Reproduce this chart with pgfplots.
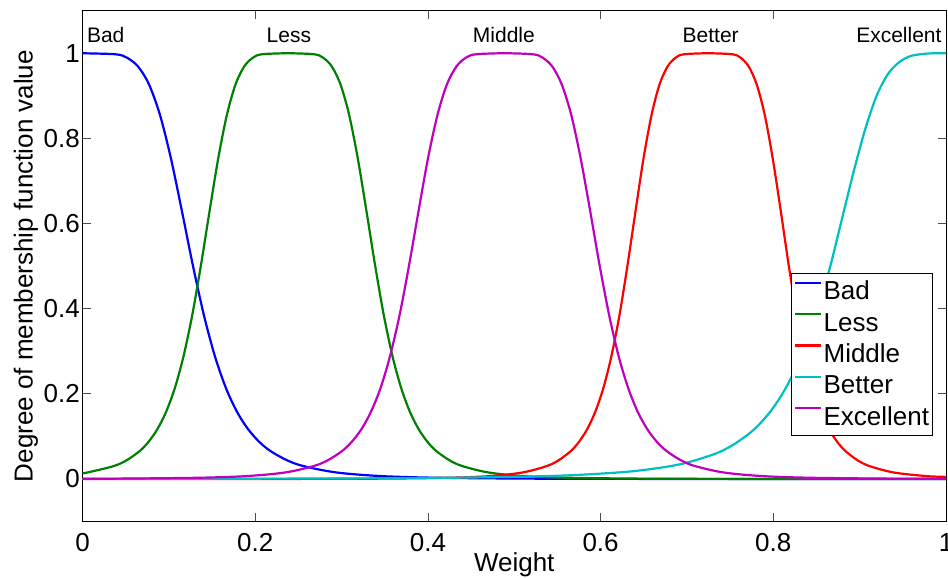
\documentclass[border=0pt]{standalone}
\usepackage{fontspec}
\setmainfont{Liberation Sans}
\usepackage{pgfplots}
\pgfplotsset{compat=1.18}
\definecolor{mblue}{rgb}{0,0,1}
\definecolor{mgreen}{rgb}{0,0.5,0}
\definecolor{mred}{rgb}{1,0,0}
\definecolor{mcyan}{rgb}{0,0.75,0.75}
\definecolor{mmagenta}{rgb}{0.75,0,0.75}
\begin{document}
\begin{tikzpicture}
\begin{axis}[
  name=ax,
  scale only axis,
  width=863.5pt, height=510.9pt,
  xmin=0, xmax=1, ymin=-0.1, ymax=1.1,
  xtick={0,0.2,0.4,0.6,0.8,1},
  ytick={0,0.2,0.4,0.6,0.8,1},
  tick align=inside,
  major tick length=8.5pt,
  axis line style={line width=0.9pt},
  every tick/.style={black!70, line width=0.8pt},
  /pgf/number format/assume math mode=true,
  tick label style={font=\fontsize{26}{30}\selectfont},
  xticklabel style={anchor=base, yshift=-30pt},
  yticklabel style={anchor=east, inner sep=0pt, xshift=-2.5pt},
  xlabel={Weight},
  ylabel={Degree of membership function value},
  label style={font=\fontsize{26}{30}\selectfont},
  xlabel style={at={([yshift=-50pt]axis description cs:0.5,0)}, anchor=base},
  ylabel style={at={([xshift=-56.5pt]axis description cs:0,0.5)}, anchor=center},
  legend style={at={(axis cs:0.985,0.483)}, anchor=north east,
    font=\fontsize{26}{31.3}\selectfont, draw=black, line width=0.9pt,
    inner xsep=2pt, inner ysep=4pt, row sep=3.3pt,
    cells={anchor=west},
    nodes={inner xsep=1.5pt, inner ysep=0pt, text height=22pt, text depth=6pt}},
  legend image code/.code={\draw[#1] (0pt,9pt) -- (26pt,9pt);},
  every axis plot/.append style={line width=2.2pt, smooth, tension=0.5},
]
% Bad (blue)
\addplot[mblue] coordinates {(0,1) (0.0384,0.9976) (0.0512,0.9899) (0.064,0.9697) (0.0768,0.9279) (0.0896,0.8561) (0.1024,0.7532) (0.1152,0.6287) (0.128,0.5) (0.1408,0.383) (0.1536,0.2867) (0.1664,0.2122) (0.1792,0.1568) (0.192,0.1164) (0.2048,0.0871) (0.2176,0.0658) (0.2368,0.0441) (0.256,0.0303) (0.2944,0.0153) (0.3456,0.0069) (0.4096,0.003) (0.512,0.001) (0.64,0.0003) (0.896,0.0001) (1,0)};
\addlegendentry{Bad}
% Less (green)
\addplot[mgreen] coordinates {(0,0.0136) (0.0057,0.0153) (0.036,0.0303) (0.0512,0.0441) (0.0663,0.0658) (0.0764,0.0871) (0.0865,0.1164) (0.0966,0.1568) (0.1067,0.2122) (0.1168,0.2867) (0.1269,0.383) (0.137,0.5) (0.1471,0.6287) (0.1572,0.7532) (0.1673,0.8561) (0.1774,0.9279) (0.1875,0.9697) (0.1976,0.9899) (0.2077,0.9976) (0.238,1) (0.2683,0.9976) (0.2784,0.9899) (0.2885,0.9697) (0.2986,0.9279) (0.3087,0.8561) (0.3188,0.7532) (0.3289,0.6287) (0.339,0.5) (0.3491,0.383) (0.3592,0.2867) (0.3693,0.2122) (0.3794,0.1568) (0.3895,0.1164) (0.3996,0.0871) (0.4097,0.0658) (0.4249,0.0441) (0.44,0.0303) (0.4703,0.0153) (0.5107,0.0069) (0.5612,0.003) (0.642,0.001) (0.743,0.0003) (1,0)};
\addlegendentry{Less}
% Middle (red)
\addplot[mred] coordinates {(0,0) (0.07,0.0001) (0.257,0.0003) (0.3505,0.001) (0.4253,0.003) (0.4721,0.0069) (0.5095,0.0153) (0.5375,0.0303) (0.5515,0.0441) (0.5656,0.0658) (0.5749,0.0871) (0.5843,0.1164) (0.5936,0.1568) (0.603,0.2122) (0.6123,0.2867) (0.6217,0.383) (0.631,0.5) (0.6404,0.6287) (0.6497,0.7532) (0.6591,0.8561) (0.6684,0.9279) (0.6778,0.9697) (0.6871,0.9899) (0.6965,0.9976) (0.7245,1) (0.7526,0.9976) (0.7619,0.9899) (0.7713,0.9697) (0.7806,0.9279) (0.79,0.8561) (0.7993,0.7532) (0.8087,0.6287) (0.818,0.5) (0.8274,0.383) (0.8367,0.2867) (0.8461,0.2122) (0.8554,0.1568) (0.8648,0.1164) (0.8741,0.0871) (0.8835,0.0658) (0.8975,0.0441) (0.9115,0.0303) (0.9396,0.0153) (0.977,0.0069) (1,0.005)};
\addlegendentry{Middle}
% Better (cyan)
\addplot[mcyan] coordinates {(0,0.0003) (0.263,0.0011) (0.397,0.0024) (0.5042,0.0053) (0.5712,0.0094) (0.6382,0.0185) (0.6918,0.0345) (0.732,0.0588) (0.7521,0.0787) (0.7722,0.1069) (0.7856,0.1324) (0.799,0.1649) (0.8124,0.2065) (0.8258,0.2593) (0.8392,0.3254) (0.8526,0.4058) (0.866,0.5) (0.8794,0.61) (0.8928,0.72) (0.9062,0.82) (0.9196,0.9) (0.933,0.952) (0.9464,0.98) (0.9598,0.994) (0.98,0.9995) (1,1)};
\addlegendentry{Better}
% Excellent (magenta)
\addplot[mmagenta] coordinates {(0,0.0006) (0.0465,0.001) (0.1349,0.003) (0.1902,0.0069) (0.2344,0.0153) (0.2675,0.0303) (0.2841,0.0441) (0.3007,0.0658) (0.3117,0.0871) (0.3228,0.1164) (0.3338,0.1568) (0.3449,0.2122) (0.3559,0.2867) (0.367,0.383) (0.378,0.5) (0.3891,0.6287) (0.4001,0.7532) (0.4112,0.8561) (0.4222,0.9279) (0.4333,0.9697) (0.4443,0.9899) (0.4554,0.9976) (0.4885,1) (0.5217,0.9976) (0.5327,0.9899) (0.5438,0.9697) (0.5548,0.9279) (0.5659,0.8561) (0.5769,0.7532) (0.588,0.6287) (0.599,0.5) (0.6101,0.383) (0.6211,0.2867) (0.6322,0.2122) (0.6432,0.1568) (0.6543,0.1164) (0.6653,0.0871) (0.6764,0.0658) (0.6929,0.0441) (0.7095,0.0303) (0.7427,0.0153) (0.7869,0.0069) (0.8421,0.003) (0.9305,0.001) (1,0.0005)};
\addlegendentry{Excellent}
\node[anchor=base west, inner sep=0pt, font=\fontsize{21}{25}\selectfont] at (axis cs:0.005,1.026) {Bad};
\node[anchor=base, inner sep=0pt, font=\fontsize{21}{25}\selectfont] at (axis cs:0.239,1.026) {Less};
\node[anchor=base, inner sep=0pt, font=\fontsize{21}{25}\selectfont] at (axis cs:0.488,1.026) {Middle};
\node[anchor=base, inner sep=0pt, font=\fontsize{21}{25}\selectfont] at (axis cs:0.7275,1.026) {Better};
\node[anchor=base east, inner sep=0pt, font=\fontsize{21}{25}\selectfont] at (axis cs:0.995,1.026) {Excellent};
\end{axis}
\pgfresetboundingbox
\path[use as bounding box] ([xshift=-82.5pt,yshift=-56.4pt]ax.south west) rectangle ([xshift=2pt,yshift=10.7pt]ax.north east);
\end{tikzpicture}
\end{document}
